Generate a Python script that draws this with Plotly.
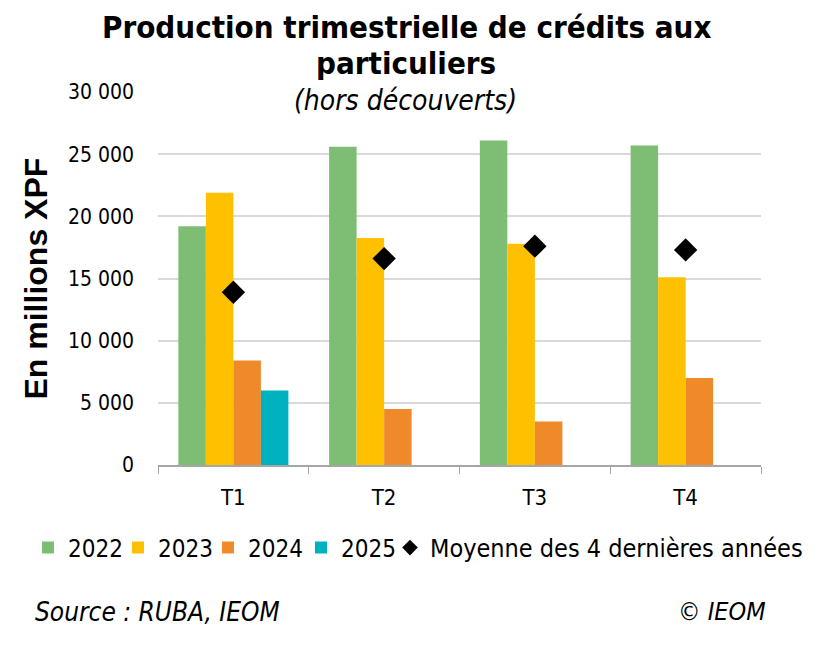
import plotly.graph_objects as go

categories = ["T1", "T2", "T3", "T4"]
v2022 = [19200, 25600, 26100, 25700]
v2023 = [21900, 18250, 17800, 15100]
v2024 = [8400, 4500, 3500, 7000]
v2025 = [6000, None, None, None]
moyenne = [13900, 16600, 17600, 17300]
y_ticks = [0, 5000, 10000, 15000, 20000, 25000, 30000]
y_tick_labels = ["0", "5 000", "10 000", "15 000", "20 000", "25 000", "30 000"]

FONT = "DejaVu Sans Condensed, Liberation Sans Narrow, DejaVu Sans, sans-serif"
W, H = 835, 645
ML, MR, MT, MB = 150, 82, 84, 188
PW, PH = W - ML - MR, H - MT - MB


def px_x(px):
    return (px - ML) / PW


def px_y(py):
    return (H - MB - py) / PH


series = [("2022", v2022, "#7DBE74"), ("2023", v2023, "#FFC000"),
          ("2024", v2024, "#EF8A2B"), ("2025", v2025, "#00B1BF")]
legend_ids = ["legend", "legend2", "legend3", "legend4", "legend5"]
legend_x = [20, 110, 200, 293, 382]  # left edge of each legend entry (px)
legend_font = [24, 24, 24, 24, 25]

fig = go.Figure()
for i, (name, vals, col) in enumerate(series):
    fig.add_trace(go.Bar(name=name, x=categories, y=vals, marker_color=col,
                         marker_line_width=0, legend=legend_ids[i]))
fig.add_trace(go.Scatter(name="Moyenne des 4 dernières années", x=categories, y=moyenne,
                         mode="markers", legend=legend_ids[4],
                         marker=dict(symbol="diamond", size=18, color="black")))

legends = {}
for lid, lx, fs in zip(legend_ids, legend_x, legend_font):
    legends[lid] = dict(orientation="h", xref="container", yref="container",
                        x=lx / W, xanchor="left", y=0.163, yanchor="middle",
                        font=dict(size=fs, family=FONT), itemwidth=30,
                        itemsizing="constant",
                        bgcolor="rgba(0,0,0,0)", borderwidth=0)

fig.update_layout(
    width=W, height=H,
    margin=dict(l=ML, r=MR, t=MT, b=MB, autoexpand=False),
    paper_bgcolor="white", plot_bgcolor="white",
    barmode="group", bargap=0.27, bargroupgap=0,
    font=dict(family=FONT, size=21, color="black"),
    showlegend=True,
    xaxis=dict(showline=True, linecolor="#A6A6A6", linewidth=1.5,
               ticks="outside", tickson="boundaries", ticklen=7, tickcolor="#A6A6A6",
               tickfont=dict(size=22), showgrid=False, ticklabelstandoff=12),
    yaxis=dict(range=[0, 30000], tickvals=y_ticks, ticktext=y_tick_labels,
               showgrid=True, gridcolor="#D9D9D9", gridwidth=1.5,
               zeroline=False, tickfont=dict(size=21), ticks="",
               ticklabelstandoff=23),
    **legends,
)

fig.add_annotation(text="<b>En millions XPF</b>", textangle=-90,
                   xref="paper", yref="paper", x=0, xshift=-123, y=0.5,
                   xanchor="center", yanchor="middle", showarrow=False,
                   font=dict(family="Liberation Sans, Arial, sans-serif", size=32))
fig.add_annotation(text="<b>Production trimestrielle de crédits aux</b>",
                   xref="paper", yref="paper", x=0.412, y=px_y(19), xanchor="center",
                   yanchor="middle", showarrow=False, borderpad=0,
                   font=dict(size=31, family=FONT))
fig.add_annotation(text="<b>particuliers</b>",
                   xref="paper", yref="paper", x=0.412, y=px_y(55), xanchor="center",
                   yanchor="middle", showarrow=False, borderpad=0,
                   font=dict(size=31, family=FONT))
fig.add_annotation(text="<i>(hors découverts)</i>", xref="paper", yref="paper",
                   x=0.41, y=1.0, yshift=-8, xanchor="center", yanchor="middle",
                   showarrow=False, font=dict(size=28, family=FONT))
fig.add_annotation(text="<i>Source : RUBA, IEOM</i>", xref="paper", yref="paper",
                   x=px_x(25), y=px_y(604), xanchor="left", yanchor="middle",
                   showarrow=False, font=dict(size=26, family=FONT))
fig.add_annotation(text="<i>© IEOM</i>", xref="paper", yref="paper",
                   x=px_x(760), y=px_y(603), xanchor="right", yanchor="middle",
                   showarrow=False, font=dict(size=25, family=FONT))

fig.write_html("out.html")
